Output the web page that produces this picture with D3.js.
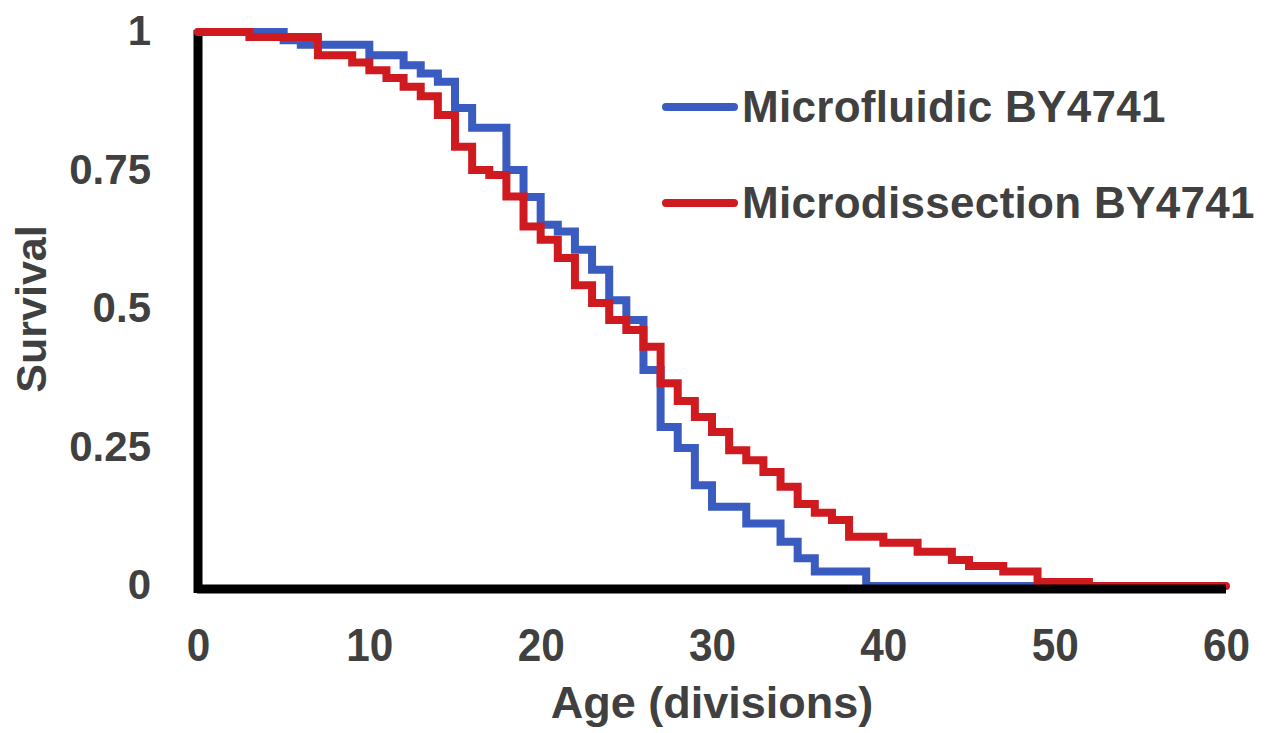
<!DOCTYPE html>
<html>
<head>
<meta charset="utf-8">
<script src="https://cdn.jsdelivr.net/npm/d3@7"></script>
<style>
  html, body { margin: 0; padding: 0; background: #fff; }
  svg text { font-family: "Liberation Sans", Arial, sans-serif; font-weight: bold; fill: #404040; }
</style>
</head>
<body>
<div id="chart"></div>
<script>
// Survival curves (age in divisions, fraction alive) - step points
const microfluidicAge = [0, 5, 6, 10, 12, 13, 14, 15, 16, 18, 19, 20, 21, 22, 23, 24, 25, 26, 27, 28, 29, 30, 32, 34, 35, 36, 39, 52];
const microfluidicSurv = [1, 0.985, 0.977, 0.958, 0.94, 0.925, 0.91, 0.863, 0.827, 0.751, 0.702, 0.652, 0.64, 0.607, 0.571, 0.516, 0.48, 0.39, 0.287, 0.249, 0.182, 0.143, 0.113, 0.08, 0.05, 0.026, 0, 0];

const microdissectionAge = [0, 3, 7, 9, 10, 11, 12, 13, 14, 15, 16, 17, 18, 19, 20, 21, 22, 23, 24, 25, 26, 27, 28, 29, 30, 31, 32, 33, 34, 35, 36, 37, 38, 40, 42, 44, 45, 47, 49, 52, 60];
const microdissectionSurv = [1, 0.991, 0.958, 0.945, 0.931, 0.917, 0.901, 0.884, 0.85, 0.793, 0.751, 0.742, 0.703, 0.649, 0.625, 0.592, 0.543, 0.511, 0.48, 0.462, 0.432, 0.366, 0.334, 0.305, 0.278, 0.245, 0.227, 0.206, 0.179, 0.148, 0.132, 0.119, 0.089, 0.078, 0.062, 0.047, 0.036, 0.026, 0.007, 0, 0];

const seriesNames = ["Microfluidic BY4741", "Microdissection BY4741"];
const seriesColors = ["#3a5bbf", "#cf1b1f"];
const xTicks = [0, 10, 20, 30, 40, 50, 60];
const yTicks = [0, 0.25, 0.5, 0.75, 1];
const yTickLabels = ["0", "0.25", "0.5", "0.75", "1"];

const width = 1276, height = 733;
const svg = d3.select("#chart").append("svg")
    .attr("width", width)
    .attr("height", height);

const x = d3.scaleLinear().domain([0, 60]).range([198, 1226]);
const y = d3.scaleLinear().domain([0, 1]).range([586, 32]);

// left axis (thick black line)
const yAxis = svg.append("g")
    .attr("transform", `translate(${x(0)},0)`)
    .call(d3.axisLeft(y).tickValues(yTicks).tickSize(0).tickPadding(47)
        .tickFormat((d, i) => yTickLabels[i]));
yAxis.select(".domain").attr("stroke", "#000").attr("stroke-width", 9).attr("d", `M0,${y(0) + 7}V${y(1) - 2}`);
yAxis.selectAll("text").style("font-size", "42px").attr("fill", "#404040").attr("dy", "0.3em");

// series
const line = d3.line()
    .x(d => x(d[0]))
    .y(d => y(d[1]))
    .curve(d3.curveStepAfter);

const blueData = microfluidicAge.map((a, i) => [a, microfluidicSurv[i]]);
const redData = microdissectionAge.map((a, i) => [a, microdissectionSurv[i]]);

[blueData, redData].forEach((data, i) => {
    svg.append("path")
        .datum(data)
        .attr("fill", "none")
        .attr("stroke", seriesColors[i])
        .attr("stroke-width", 8)
        .attr("stroke-linejoin", "miter")
        .attr("stroke-linecap", "round")
        .attr("d", line);
});

// bottom axis (thick black line, drawn over the zero level)
const xAxis = svg.append("g")
    .attr("transform", `translate(0,${y(0) + 3})`)
    .call(d3.axisBottom(x).tickValues(xTicks).tickSize(0).tickPadding(72));
xAxis.select(".domain").attr("stroke", "#000").attr("stroke-width", 9).attr("d", `M${x(0) - 1},0H${x(60)}`);
// slightly condensed x tick labels
xAxis.selectAll("text")
    .style("font-size", "46px").attr("fill", "#404040").attr("dy", "0em")
    .attr("transform", "scale(0.92,1)");

// axis titles
svg.append("text")
    .attr("x", x(30))
    .attr("y", 718)
    .attr("text-anchor", "middle")
    .style("font-size", "45px")
    .text("Age (divisions)");

svg.append("text")
    .attr("transform", `translate(46,${y(0.5)}) rotate(-90)`)
    .attr("text-anchor", "middle")
    .style("font-size", "43px")
    .text("Survival");

// legend
const legend = svg.append("g");
seriesNames.forEach((name, i) => {
    const ly = 107 + i * 96;
    legend.append("line")
        .attr("x1", 666).attr("x2", 734)
        .attr("y1", ly).attr("y2", ly)
        .attr("stroke", seriesColors[i])
        .attr("stroke-width", 8)
        .attr("stroke-linecap", "round");
    legend.append("text")
        .attr("x", 742)
        .attr("y", ly + 15)
        .style("font-size", "44px")
        .style("letter-spacing", "0.3px")
        .text(name);
});
</script>
</body>
</html>
